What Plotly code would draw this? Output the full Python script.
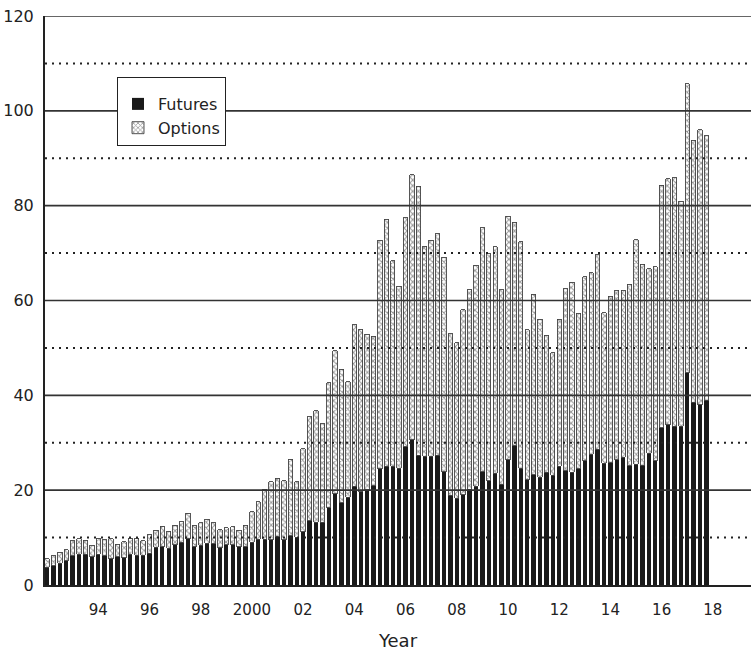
import plotly.graph_objects as go

# Quarterly data, 1992Q1 .. 2017Q4
start_year = 1992
n_years = 26

futures = [3.7, 4.1, 4.6, 5.1, 6.2, 6.5, 6.5, 6.0, 6.5, 6.2, 5.5, 6.0, 5.8, 6.5, 6.3, 6.3,
           6.7, 8.0, 8.1, 7.7, 8.5, 9.0, 9.8, 8.1, 8.4, 8.8, 8.7, 7.9, 8.5, 8.5, 8.1, 8.1,
           9.0, 9.7, 9.7, 9.5, 10.2, 9.5, 10.4, 10.1, 11.2, 13.6, 13.2, 13.2, 16.3, 19.2, 17.3, 18.5,
           20.8, 19.7, 20.1, 20.9, 24.5, 25.0, 25.0, 24.6, 29.2, 30.6, 27.4, 27.2, 27.2, 27.4, 23.9, 18.9,
           18.3, 19.0, 20.2, 20.8, 23.9, 22.0, 23.6, 21.3, 26.4, 29.4, 24.6, 22.2, 23.2, 22.7, 23.8, 23.1,
           25.0, 24.1, 23.8, 24.5, 26.2, 27.6, 28.6, 25.7, 25.8, 26.4, 26.9, 25.1, 25.5, 25.3, 27.8, 26.2,
           33.2, 33.8, 33.5, 33.5, 44.8, 38.5, 38.0, 39.0]

options = [1.8, 2.1, 2.3, 2.3, 3.1, 3.3, 2.9, 2.4, 3.4, 3.3, 4.3, 2.6, 3.3, 3.4, 3.6, 3.0,
           3.9, 3.6, 4.3, 3.6, 4.1, 4.3, 5.3, 4.5, 4.7, 5.1, 4.4, 3.8, 3.6, 3.8, 3.5, 4.5,
           6.4, 7.9, 10.5, 12.3, 12.3, 12.5, 16.1, 11.7, 17.5, 21.9, 23.5, 20.8, 26.4, 30.2, 28.2, 24.4,
           34.1, 34.2, 32.8, 31.6, 48.2, 52.1, 43.4, 38.4, 48.3, 55.9, 56.7, 44.2, 45.5, 46.7, 45.2, 34.1,
           32.8, 39.0, 42.1, 46.6, 51.4, 47.9, 47.7, 41.0, 51.4, 47.1, 47.8, 31.6, 38.1, 33.3, 28.9, 25.9,
           31.0, 38.4, 40.0, 32.8, 38.8, 38.3, 41.1, 31.7, 35.1, 35.8, 35.3, 38.3, 47.3, 42.3, 38.9, 40.9,
           51.1, 51.9, 52.4, 47.4, 60.9, 55.3, 58.0, 55.7]

tick_years = [1994, 1996, 1998, 2000, 2002, 2004, 2006, 2008, 2010, 2012, 2014, 2016, 2018]
tick_labels = ["94", "96", "98", "2000", "02", "04", "06", "08", "10", "12", "14", "16", "18"]
y_major = [20, 40, 60, 80, 100, 120]
y_minor = [10, 30, 50, 70, 90, 110]

# decimal-year position of each quarter
x = [start_year + y + q / 4 for y in range(n_years) for q in range(4)]

FONT = "DejaVu Sans"

fig = go.Figure()
fig.add_trace(go.Bar(
    x=x, y=futures, name="Futures", width=0.17, legendgroup="f",
    marker=dict(color="#1a1a1a", line=dict(width=0)),
))
fig.add_trace(go.Bar(
    x=x, y=options, name="Options", width=0.17, legendgroup="o",
    marker=dict(color="white",
                line=dict(color="#444444", width=0.9),
                pattern=dict(shape="x", fgcolor="#2a2a2a", bgcolor="white",
                             size=4, solidity=0.42)),
))

shapes = []
for v in y_major:
    shapes.append(dict(type="line", xref="paper", x0=0, x1=1, yref="y", y0=v, y1=v,
                       line=dict(color="#333333", width=1.6), layer="above"))
for v in y_minor:
    shapes.append(dict(type="line", xref="paper", x0=0, x1=1, yref="y", y0=v, y1=v,
                       line=dict(color="#222222", width=2, dash="2px,5px"), layer="above"))

fig.update_layout(
    width=751, height=654,
    margin=dict(l=45, r=0, t=16, b=69),
    barmode="stack",
    plot_bgcolor="white", paper_bgcolor="white",
    font=dict(family=FONT, size=15, color="#222222"),
    shapes=shapes,
    showlegend=True,
    legend=dict(x=0.102, y=0.893, xanchor="left", yanchor="top",
                bgcolor="white", bordercolor="#222222", borderwidth=1,
                font=dict(family=FONT, size=16, color="#222222"),
                title=dict(text=" ", font=dict(size=7)),
                traceorder="normal", tracegroupgap=2, itemwidth=30),
    xaxis=dict(range=[1991.92, 2019.49], tickmode="array", tickvals=tick_years,
               ticktext=tick_labels, showgrid=False, zeroline=False,
               showline=True, linecolor="#222222", linewidth=2, ticks="",
               ticklabelstandoff=10,
               title=dict(text="Year", font=dict(family=FONT, size=18, color="#222222"),
                          standoff=16)),
    yaxis=dict(range=[0, 120], tickmode="array", tickvals=[0, 20, 40, 60, 80, 100, 120],
               tickfont=dict(size=16),
               showgrid=False, zeroline=False, showline=True, linecolor="#222222",
               linewidth=2, ticks="", ticklabelstandoff=6),
)

fig.write_html("out.html")
